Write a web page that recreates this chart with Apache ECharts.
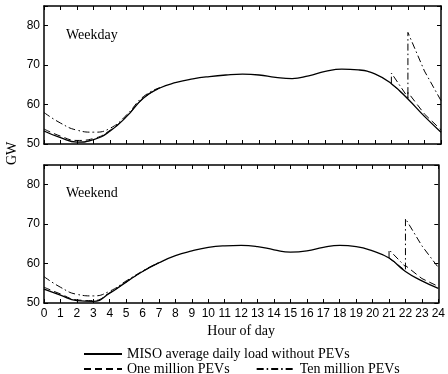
<!DOCTYPE html>
<html>
<head>
<meta charset="utf-8">
<script src="https://cdn.jsdelivr.net/npm/echarts@6/dist/echarts.min.js"></script>
<style>
  html, body { margin: 0; padding: 0; background: #fff; }
  #main { width: 448px; height: 374px; }
</style>
</head>
<body>
<div id="main"></div>
<script>
// hourly values, GW
var hours = [0,1,2,3,4,5,6,7,8,9,10,11,12,13,14,15,16,17,18,19,20,21,22,23,24];
var amHours = [0,1,2,3,4,5,6,7];
var pmHours = [21,21,22,22,23,24];

var wdBase = [53.3,51.6,50.5,51.1,53.3,57.0,61.6,64.2,65.6,66.5,67.1,67.5,67.7,67.5,66.9,66.6,67.3,68.4,69.0,68.8,67.8,65.3,61.4,57.0,53.0];
var wdOneAm = [53.8,52.0,50.9,51.4,53.5,57.1,61.6,64.2];
var wdTenAm = [58.0,55.3,53.5,53.0,54.0,57.4,62.0,64.3];
var wdOnePm = [65.3,65.6,61.5,63.1,57.6,53.6];
var wdTenPm = [65.3,68.0,61.8,78.3,68.5,61.0];

var weBase = [53.5,52.0,50.6,50.4,52.5,55.3,58.0,60.2,62.0,63.2,64.1,64.5,64.6,64.3,63.5,62.9,63.2,64.1,64.6,64.3,63.2,61.4,58.0,55.6,53.7];
var weOneAm = [54.0,52.3,50.8,50.6,52.6,55.3,58.0,60.2];
var weTenAm = [56.7,54.0,52.2,51.8,53.0,55.6,58.1,60.3];
var weOnePm = [61.4,61.7,58.2,59.5,56.2,54.2];
var weTenPm = [61.4,63.5,59.2,71.4,64.5,59.0];

var yTicks = [50, 60, 70, 80];

var serif = "'Liberation Serif', 'Times New Roman', serif";
var sans = "'Liberation Sans', Arial, Helvetica, sans-serif";
var nameBase = 'MISO average daily load without PEVs';
var nameOne = 'One million PEVs';
var nameTen = 'Ten million PEVs';
var dash = [7, 4];
var dashDot = [7, 3, 1.5, 3];

function pairs(xs, ys) {
    return ys.map(function (v, i) { return [xs[i], v]; });
}

function xAx(gridIndex, pos, labels) {
    return {
        type: 'value', gridIndex: gridIndex, position: pos,
        min: 0, max: 24, interval: 1,
        axisLine: { show: true, onZero: false, lineStyle: { color: '#000', width: 1.5 } },
        axisTick: { show: true, inside: true, length: 4, lineStyle: { color: '#000', width: 1 } },
        axisLabel: { show: labels, color: '#000', fontSize: 12, fontFamily: sans, margin: 5 },
        splitLine: { show: false },
        name: labels ? 'Hour of day' : '',
        nameLocation: 'middle', nameGap: 21,
        nameTextStyle: { color: '#000', fontSize: 14, fontFamily: serif }
    };
}

function yAx(gridIndex, pos, labels) {
    return {
        type: 'value', gridIndex: gridIndex, position: pos,
        min: 50, max: 85, interval: 10,
        axisLine: { show: true, onZero: false, lineStyle: { color: '#000', width: 1.5 } },
        axisTick: { show: true, inside: true, length: 4, lineStyle: { color: '#000', width: 1 } },
        axisLabel: {
            show: labels, color: '#000', fontSize: 12, fontFamily: sans, margin: 4,
            formatter: function (v) { return yTicks.indexOf(v) >= 0 ? String(v) : ''; }
        },
        splitLine: { show: false }
    };
}

function line(name, xi, data, type, smooth, width) {
    return {
        name: name, type: 'line', xAxisIndex: xi, yAxisIndex: xi,
        data: data, symbol: 'none', smooth: smooth, silent: true,
        lineStyle: { color: '#000', width: width, type: type },
        itemStyle: { color: '#000' }
    };
}

function legendRow(top, names) {
    return {
        left: 78, top: top, itemWidth: 38, itemHeight: 14, itemGap: 26,
        data: names,
        itemStyle: { opacity: 0 },
        textStyle: { color: '#000', fontSize: 14, fontFamily: serif },
        selectedMode: false
    };
}

var chart = echarts.init(document.getElementById('main'));
var option = {
    animation: false,
    backgroundColor: '#fff',
    grid: [
        { left: 44, top: 6, width: 397, height: 138 },
        { left: 44, top: 165, width: 397, height: 138 }
    ],
    xAxis: [xAx(0, 'bottom', false), xAx(0, 'top', false), xAx(1, 'bottom', true), xAx(1, 'top', false)],
    yAxis: [yAx(0, 'left', true), yAx(0, 'right', false), yAx(1, 'left', true), yAx(1, 'right', false)],
    legend: [
        legendRow(342, [nameBase]),
        legendRow(357, [nameOne, nameTen])
    ],
    graphic: [
        { type: 'text', left: 66, top: 28, style: { text: 'Weekday', fill: '#000', font: '14px ' + serif } },
        { type: 'text', left: 66, top: 186, style: { text: 'Weekend', fill: '#000', font: '14px ' + serif } },
        { type: 'text', x: 5, y: 165, rotation: Math.PI / 2, style: { text: 'GW', fill: '#000', font: '14px ' + serif } }
    ],
    series: [
        line(nameBase, 0, pairs(hours, wdBase), 'solid', 0.5, 1.3),
        line(nameOne, 0, pairs(amHours, wdOneAm), dash, 0.5, 1),
        line(nameOne, 0, pairs(pmHours, wdOnePm), dash, false, 1),
        line(nameTen, 0, pairs(amHours, wdTenAm), dashDot, 0.5, 1),
        line(nameTen, 0, pairs(pmHours, wdTenPm), dashDot, false, 1),

        line(nameBase, 2, pairs(hours, weBase), 'solid', 0.5, 1.3),
        line(nameOne, 2, pairs(amHours, weOneAm), dash, 0.5, 1),
        line(nameOne, 2, pairs(pmHours, weOnePm), dash, false, 1),
        line(nameTen, 2, pairs(amHours, weTenAm), dashDot, 0.5, 1),
        line(nameTen, 2, pairs(pmHours, weTenPm), dashDot, false, 1)
    ]
};
chart.setOption(option);
</script>
</body>
</html>
